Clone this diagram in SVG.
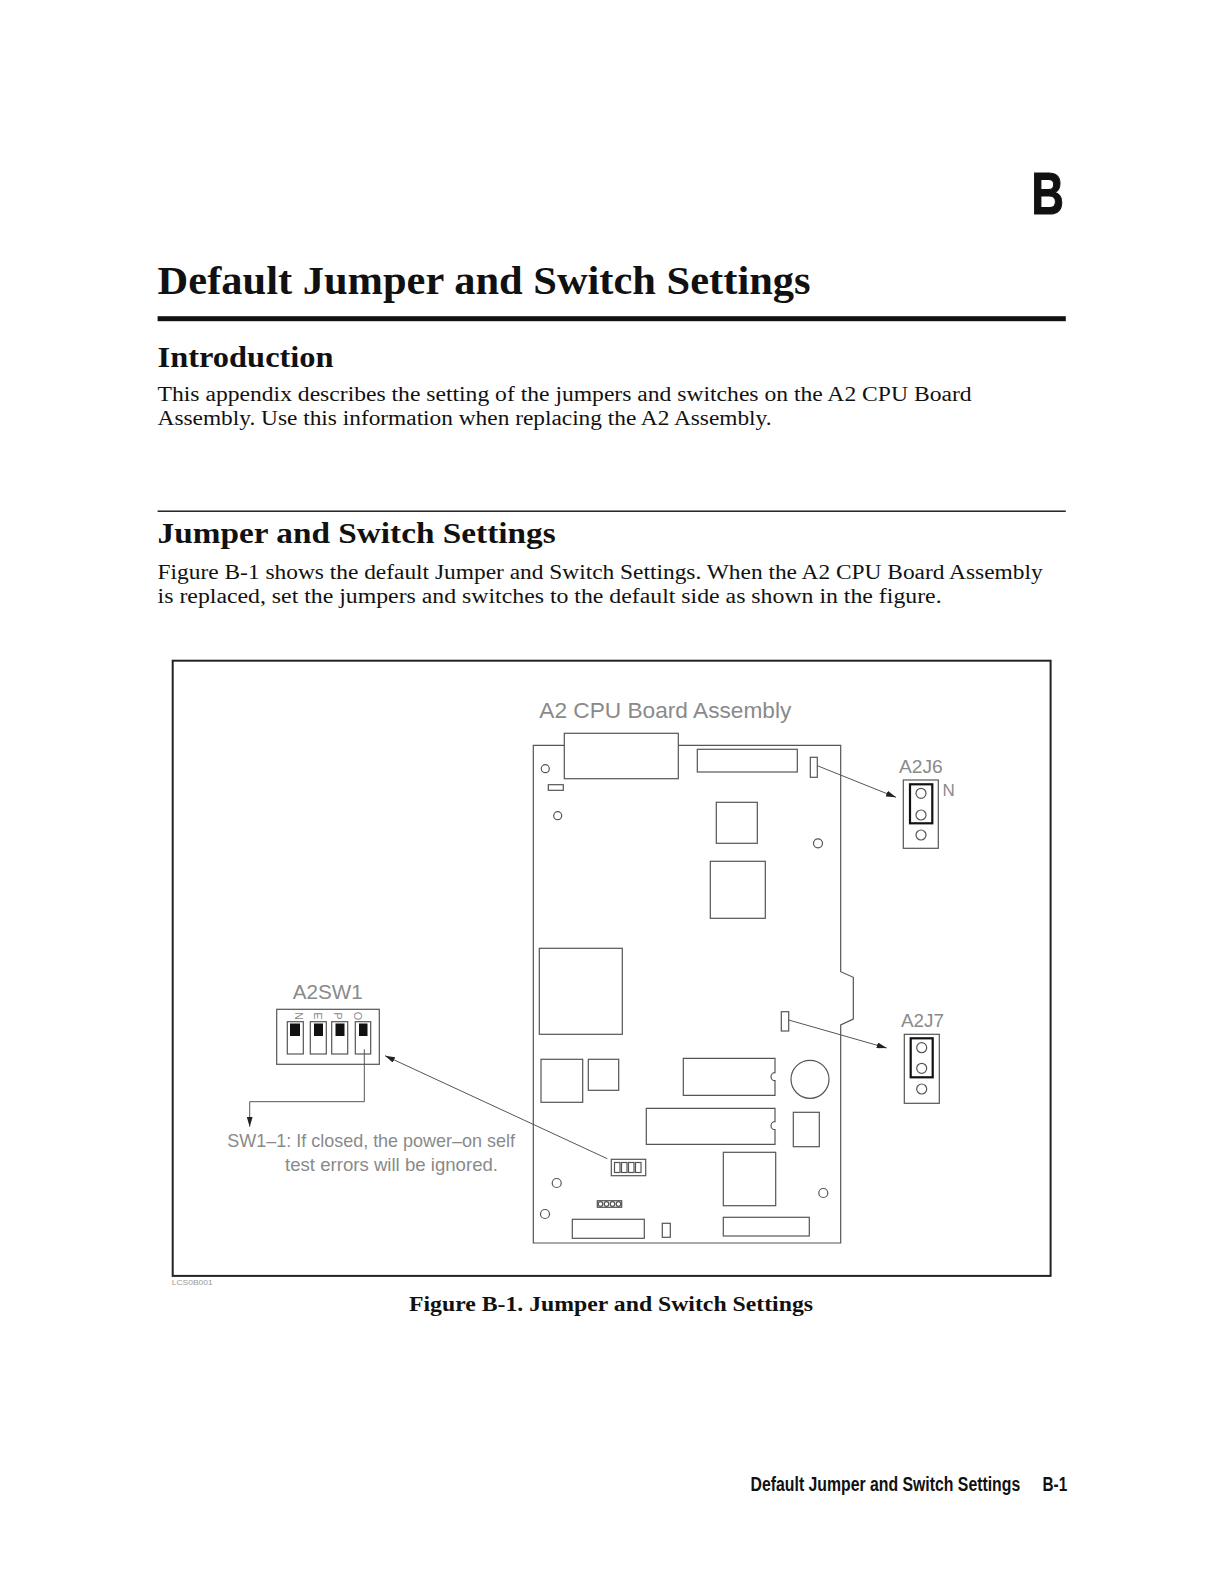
<svg xmlns="http://www.w3.org/2000/svg" width="1224" height="1584" viewBox="0 0 1224 1584">
<style>
.serif{font-family:"Liberation Serif","Times New Roman",serif;fill:#111}
.b{font-weight:bold}
.body{font-size:20.5px}
.sans{font-family:"Liberation Sans",Arial,sans-serif;fill:#111;font-weight:bold}
.cad{font-family:"Liberation Sans",Arial,sans-serif;fill:#8a8a8a}
.ln{fill:#fff;stroke:#555;stroke-width:1.2}
.lnn{fill:none;stroke:#555;stroke-width:1.2}
.jmp{fill:none;stroke:#111;stroke-width:2.2}
.conn{fill:none;stroke:#555;stroke-width:1}
.blk{fill:#111}
</style>
<defs>
<marker id="ah" markerWidth="10" markerHeight="6" refX="10" refY="3" orient="auto" markerUnits="userSpaceOnUse"><path d="M0,0 L10,3 L0,6 Z" fill="#222"/></marker>
</defs>
<rect width="1224" height="1584" fill="#fff"/>

<g id="page-text">
<text class="sans" x="0" y="0" font-size="59" stroke="#111" stroke-width="1.2" transform="translate(1031.5,214) scale(0.76,1)">B</text>
<text class="serif b" x="157.6" y="294" font-size="40" textLength="653" lengthAdjust="spacingAndGlyphs">Default Jumper and Switch Settings</text>
<rect x="157.6" y="316.2" width="908.2" height="5" fill="#111"/>
<text class="serif b" x="157.6" y="366.7" font-size="29" textLength="176" lengthAdjust="spacingAndGlyphs">Introduction</text>
<text class="serif body" x="157.6" y="401" textLength="814" lengthAdjust="spacingAndGlyphs">This appendix describes the setting of the jumpers and switches on the A2 CPU Board</text>
<text class="serif body" x="157.6" y="425.3" textLength="614" lengthAdjust="spacingAndGlyphs">Assembly. Use this information when replacing the A2 Assembly.</text>
<rect x="157.6" y="510.5" width="908.2" height="1.4" fill="#111"/>
<text class="serif b" x="157.6" y="542.5" font-size="29" textLength="398" lengthAdjust="spacingAndGlyphs">Jumper and Switch Settings</text>
<text class="serif body" x="157.6" y="578.8" textLength="885" lengthAdjust="spacingAndGlyphs">Figure B-1 shows the default Jumper and Switch Settings. When the A2 CPU Board Assembly</text>
<text class="serif body" x="157.6" y="603" textLength="784" lengthAdjust="spacingAndGlyphs">is replaced, set the jumpers and switches to the default side as shown in the figure.</text>
<text class="serif b" x="409" y="1311" font-size="20.5" textLength="404" lengthAdjust="spacingAndGlyphs">Figure B-1. Jumper and Switch Settings</text>
<text class="sans" x="0" y="0" font-size="21" transform="translate(750.6,1491) scale(0.753,1)">Default Jumper and Switch Settings</text>
<text class="sans" x="0" y="0" font-size="21" transform="translate(1042.5,1491) scale(0.73,1)">B-1</text>
</g>

<g id="figure-frame">
<rect x="172.7" y="660.7" width="877.9" height="615.2" fill="none" stroke="#222" stroke-width="2"/>
<text x="171.7" y="1285" font-family="Liberation Sans,Arial,sans-serif" font-size="8" fill="#999" textLength="41" lengthAdjust="spacingAndGlyphs">LCS0B001</text>
</g>

<g id="board">
<text class="cad" x="539.3" y="718" font-size="22.5" textLength="252" lengthAdjust="spacingAndGlyphs">A2 CPU Board Assembly</text>
<path class="ln" d="M533.3,745.3 H840.7 V971.7 L853.3,977.3 V1019 L840.7,1025 V1243 H533.3 Z"/>
<rect class="ln" x="564.3" y="733.3" width="114" height="45.4"/>
<rect class="ln" x="697.3" y="749.3" width="100" height="22.7"/>
<rect class="ln" x="810.3" y="757.3" width="7" height="20"/>
<circle class="ln" cx="545.3" cy="768.7" r="4"/>
<rect class="ln" x="548.3" y="784.7" width="15" height="5.6"/>
<circle class="ln" cx="557.7" cy="815.7" r="4"/>
<rect class="ln" x="716.3" y="802.3" width="41" height="41"/>
<circle class="ln" cx="818" cy="843.3" r="4.5"/>
<rect class="ln" x="710.3" y="861.3" width="55" height="57"/>
<rect class="ln" x="539.3" y="948.3" width="83" height="86"/>
<rect class="ln" x="781.3" y="1011.7" width="7.4" height="19.3"/>
<rect class="ln" x="541" y="1059.3" width="41.7" height="43"/>
<rect class="ln" x="588.3" y="1059.3" width="30.4" height="31"/>
<path class="ln" d="M683.3,1058.3 H775 V1072.7 A4,4 0 0 0 775,1080.7 V1095.3 H683.3 Z"/>
<circle class="ln" cx="810" cy="1079.3" r="19"/>
<path class="ln" d="M646.3,1108.3 H775 V1121.7 A4,4 0 0 0 775,1129.7 V1144.3 H646.3 Z"/>
<rect class="ln" x="793.3" y="1112.3" width="26" height="34.4"/>
<rect class="ln" x="611.3" y="1159.3" width="34.4" height="16.4"/>
<rect class="lnn" x="614.5" y="1162.5" width="5.5" height="10"/>
<rect class="lnn" x="621.5" y="1162.5" width="5.5" height="10"/>
<rect class="lnn" x="628.5" y="1162.5" width="5.5" height="10"/>
<rect class="lnn" x="635.5" y="1162.5" width="5.5" height="10"/>
<rect class="ln" x="723.3" y="1152.3" width="52.4" height="53.4"/>
<circle class="ln" cx="556.7" cy="1183" r="4.5"/>
<circle class="ln" cx="823.3" cy="1193" r="4.5"/>
<rect class="ln" x="597.3" y="1200.7" width="24.4" height="6.6"/>
<circle class="lnn" cx="600.5" cy="1204" r="2.3"/>
<circle class="lnn" cx="606.5" cy="1204" r="2.3"/>
<circle class="lnn" cx="612.5" cy="1204" r="2.3"/>
<circle class="lnn" cx="618.5" cy="1204" r="2.3"/>
<circle class="ln" cx="545" cy="1214" r="4.5"/>
<rect class="ln" x="572.3" y="1219.3" width="72" height="19"/>
<rect class="ln" x="662.3" y="1223.3" width="8" height="14"/>
<rect class="ln" x="723.3" y="1217.3" width="86" height="18.7"/>
</g>

<g id="a2j6">
<text class="cad" x="899" y="773.3" font-size="18.5" textLength="43.7" lengthAdjust="spacingAndGlyphs">A2J6</text>
<rect class="ln" x="903.3" y="780" width="35" height="68.3"/>
<rect class="jmp" x="910" y="784.3" width="22.3" height="39"/>
<circle class="lnn" cx="921" cy="793.3" r="5"/>
<circle class="lnn" cx="921" cy="815" r="5"/>
<circle class="lnn" cx="921" cy="835" r="5"/>
<text class="cad" x="942.5" y="796" font-size="17">N</text>
</g>

<g id="a2j7">
<text class="cad" x="901" y="1027.3" font-size="18.5" textLength="43" lengthAdjust="spacingAndGlyphs">A2J7</text>
<rect class="ln" x="904.3" y="1034.3" width="35" height="69"/>
<rect class="jmp" x="910.7" y="1038.3" width="22" height="39"/>
<circle class="lnn" cx="921.7" cy="1047.7" r="5"/>
<circle class="lnn" cx="921.7" cy="1068.3" r="5"/>
<circle class="lnn" cx="921.7" cy="1089" r="5"/>
</g>

<g id="a2sw1">
<text class="cad" x="292.7" y="999.3" font-size="20" textLength="70" lengthAdjust="spacingAndGlyphs">A2SW1</text>
<rect class="ln" x="276.7" y="1009.3" width="102.6" height="55"/>
<g class="cad" font-size="11" text-anchor="middle">
<text x="0" y="0" transform="translate(299,1016) rotate(90)" dominant-baseline="central">N</text>
<text x="0" y="0" transform="translate(318,1016) rotate(90)" dominant-baseline="central">E</text>
<text x="0" y="0" transform="translate(337.5,1016) rotate(90)" dominant-baseline="central">P</text>
<text x="0" y="0" transform="translate(357.5,1016) rotate(90)" dominant-baseline="central">O</text>
</g>
<rect class="ln" x="287.3" y="1021.7" width="16" height="32.3"/>
<rect class="ln" x="310.3" y="1021.7" width="16" height="32.3"/>
<rect class="ln" x="331.7" y="1021.7" width="16" height="32.3"/>
<rect class="ln" x="355.3" y="1021.7" width="15.4" height="32.3"/>
<rect class="blk" x="290" y="1023.5" width="10" height="12.5"/>
<rect class="blk" x="314" y="1023.5" width="9" height="12.5"/>
<rect class="blk" x="335.5" y="1023.5" width="9" height="12.5"/>
<rect class="blk" x="359" y="1023.5" width="8.5" height="12.5"/>
</g>

<g id="note">
<text class="cad" x="227.3" y="1147.3" font-size="18.5" textLength="287.7" lengthAdjust="spacingAndGlyphs">SW1–1: If closed, the power–on self</text>
<text class="cad" x="285" y="1171" font-size="18.5" textLength="213" lengthAdjust="spacingAndGlyphs">test errors will be ignored.</text>
</g>

<g id="connectors">
<line class="conn" x1="817.3" y1="765.7" x2="896" y2="797.3" marker-end="url(#ah)"/>
<line class="conn" x1="788.7" y1="1020" x2="886.7" y2="1048" marker-end="url(#ah)"/>
<line class="conn" x1="607.3" y1="1158.7" x2="385" y2="1055.7" marker-end="url(#ah)"/>
<polyline class="conn" points="364.3,1049.3 364.3,1101.7 249.7,1101.7 249.7,1126.7" marker-end="url(#ah)"/>
</g>
</svg>
